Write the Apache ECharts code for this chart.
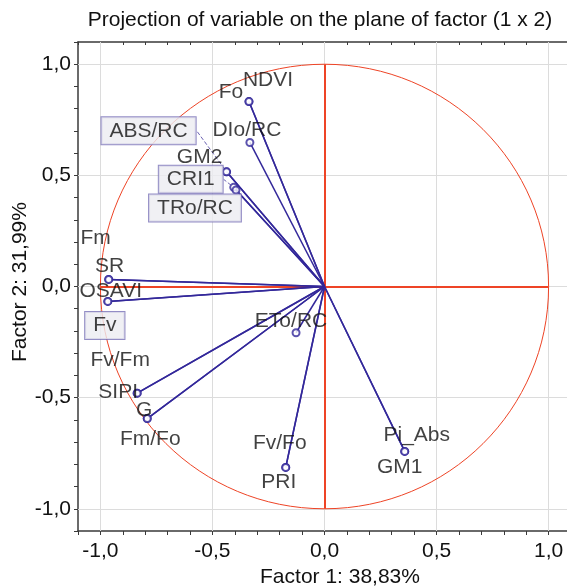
<!DOCTYPE html>
<html><head><meta charset="utf-8">
<script src="https://cdn.jsdelivr.net/npm/echarts@6/dist/echarts.min.js"></script>
<style>html,body{margin:0;padding:0;background:#fff}#c{width:567px;height:587px}</style>
</head><body><div id="c"></div>
<script>
// ---- data ----
const variables = ['Fo','NDVI','DIo/RC','GM2','ABS/RC','CRI1','TRo/RC','Fm','SR','OSAVI','Fv','Fv/Fm','SIPI','G','Fm/Fo','ETo/RC','Fv/Fo','PRI','Pi_Abs','GM1'];
const factor1 = [-0.337,-0.337,-0.333,-0.437,-0.437,-0.405,-0.395,-0.963,-0.963,-0.967,-0.967,-0.836,-0.836,-0.791,-0.791,-0.127,-0.173,-0.173,0.358,0.358];
const factor2 = [0.832,0.832,0.648,0.516,0.516,0.446,0.434,0.032,0.032,-0.067,-0.067,-0.480,-0.480,-0.594,-0.594,-0.208,-0.814,-0.814,-0.742,-0.742];
const gridTicks = [-1,-0.5,0,0.5,1];
const unitRadius = 1;
const titleText = 'Projection of variable on the plane of factor (1 x 2)';
const xName = 'Factor 1: 38,83%';
const yName = 'Factor 2: 31,99%';

// ---- label layout (pixel offsets of label centre from point) ----
const labelOffset = {
  'Fo':[-18,-9], 'NDVI':[19,-21], 'DIo/RC':[-3,-12], 'GM2':[-27,-15], 'ABS/RC':[-78,-41],
  'CRI1':[-43,-8], 'TRo/RC':[-41,18], 'Fm':[-13,-41], 'SR':[1,-13], 'OSAVI':[3,-10], 'Fv':[-3,24],
  'Fv/Fm':[-17,-33], 'SIPI':[-19,-1], 'G':[-3,-8], 'Fm/Fo':[3,21], 'ETo/RC':[-5,-12],
  'Fv/Fo':[-6,-24], 'PRI':[-7,15], 'Pi_Abs':[12,-16], 'GM1':[-5,16]
};
const boxed = ['ABS/RC','CRI1','TRo/RC','Fv'];
const withLeader = ['ABS/RC','CRI1'];

const FONT = '"Liberation Sans", Arial, sans-serif';
const FS = 21;
const TXT = '#111111';
const RED = '#ee4426';
const BLUE = '#33289a';

const fmt = v => (Math.abs(v*2 - Math.round(v*2)) < 1e-6) ? v.toFixed(1).replace('.', ',') : '';

const pts = variables.map((n,i) => {
  const item = {name:n, value:[factor1[i], factor2[i]]};
  if (boxed.includes(n)) item.label = {backgroundColor:'#ececf1', borderColor:'#7870b6', borderWidth:1, padding:[3,8,3,8]};
  if (withLeader.includes(n)) item.labelLine = {show:true, lineStyle:{type:'dashed', color:'#6c63b3', width:1}};
  return item;
});
const vectors = variables.map((n,i) => ({coords:[[0,0],[factor1[i], factor2[i]]]}));

const axisCommon = {
  type:'value', min:-1.1, max:1.1, interval:0.1,
  splitLine:{show:false},
  axisLine:{show:true, onZero:false, lineStyle:{color:'#3a3a3a', width:1.5}},
  axisTick:{show:true, length:4, lineStyle:{color:'#3a3a3a', width:1}},
};

const chart = echarts.init(document.getElementById('c'), null, {renderer:'canvas'});
chart.setOption({
  animation:false,
  backgroundColor:'#fff',
  grid:{left:78, top:42, width:493, height:489, containLabel:false, outerBoundsMode:'none'},
  xAxis:[
    Object.assign({}, axisCommon, {position:'bottom',
      axisLabel:{formatter:fmt, color:TXT, fontSize:FS, fontFamily:FONT, margin:10}}),
    Object.assign({}, axisCommon, {position:'top', axisLabel:{show:false},
      axisTick:{show:true, inside:true, length:3, lineStyle:{color:'#3a3a3a'}}})
  ],
  yAxis:[
    Object.assign({}, axisCommon, {position:'left',
      axisLabel:{formatter:fmt, color:TXT, fontSize:FS, fontFamily:FONT, margin:7}})
  ],
  graphic:[
    {type:'text', x:320, y:20, style:{text:titleText, x:0, y:0, textAlign:'center', textVerticalAlign:'middle', fill:TXT, font:FS + 'px ' + FONT}},
    {type:'text', x:340, y:577, style:{text:xName, x:0, y:0, textAlign:'center', textVerticalAlign:'middle', fill:TXT, font:FS + 'px ' + FONT}},
    {type:'text', x:20, y:282, rotation:Math.PI/2, style:{text:yName, x:0, y:0, textAlign:'center', textVerticalAlign:'middle', fill:TXT, font:FS + 'px ' + FONT}}
  ],
  series:[
    {type:'line', data:[], z:1, silent:true,
      markLine:{z:1, silent:true, symbol:'none', label:{show:false}, animation:false,
        lineStyle:{color:'#dcdcdc', width:1, type:'solid'},
        data: gridTicks.map(v => ({xAxis:v})).concat(gridTicks.map(v => ({yAxis:v})))}},
    {type:'lines', coordinateSystem:'cartesian2d', z:2, silent:true,
      lineStyle:{color:RED, width:2, opacity:1},
      data:[{coords:[[-unitRadius,0],[unitRadius,0]]},{coords:[[0,-unitRadius],[0,unitRadius]]}]},
    {type:'custom', z:3, silent:true, data:[[0,0]], encode:{x:0,y:1},
      renderItem:(params, api) => {
        const c = api.coord([api.value(0), api.value(1)]);
        const s = api.size([unitRadius, unitRadius]);
        return {type:'ellipse', shape:{cx:c[0], cy:c[1], rx:s[0], ry:s[1]},
          style:{fill:'none', stroke:RED, lineWidth:1}};
      }},
    {type:'lines', coordinateSystem:'cartesian2d', z:4, silent:true,
      lineStyle:{color:BLUE, width:1.5, opacity:1}, data:vectors},
    {type:'scatter', z:5, silent:true, symbol:'emptyCircle', symbolSize:7,
      itemStyle:{color:BLUE, borderColor:BLUE, borderWidth:1.2},
      label:{show:true, position:'inside', formatter:p => p.name, color:TXT, fontSize:FS, fontFamily:FONT},
      labelLine:{show:false},
      labelLayout:p => { const o = labelOffset[variables[p.dataIndex]]; return {dx:o[0], dy:o[1]}; },
      data:pts}
  ]
});
</script></body></html>
